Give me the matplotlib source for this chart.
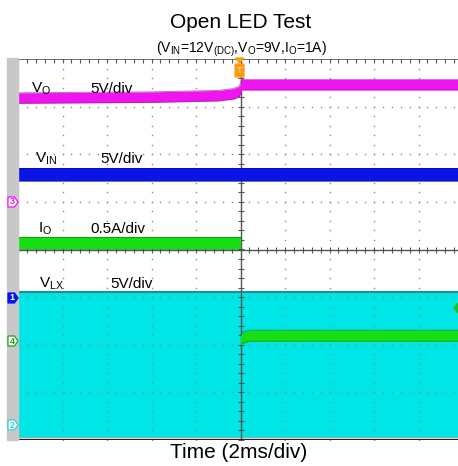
import matplotlib
matplotlib.use('Agg')
import matplotlib.pyplot as plt
import numpy as np
from matplotlib.patches import Rectangle, Polygon, FancyBboxPatch

plt.rcParams['font.family'] = ['Liberation Sans', 'DejaVu Sans']
plt.rcParams['mathtext.fontset'] = 'custom'
plt.rcParams['mathtext.rm'] = 'Liberation Sans'
plt.rcParams['mathtext.it'] = 'Liberation Sans:italic'

W, H = 458, 466

# traces, time in ms (2ms/div), level in screen divisions
t_vo = [-10, -4, -1, -0.3, -0.05, 0.05, 10]
vo = [3.18, 3.20, 3.23, 3.27, 3.32, 3.46, 3.46]
t_vin = [-10, 10]
vin = [1.575, 1.575]
t_io = [-10, 0]
io = [0.13, 0.13]
t_ch4 = [0, 0.1, 0.4, 10]
ch4 = [-1.92, -1.85, -1.81, -1.81]
t_vlx = [-10, 10]
vlx_high = [-0.9, -0.9]
vlx_low = [-3.93, -3.93]

labels = [
    (r'$\mathrm{V_{O}}$', 31, 93, '5V/div', 90),
    (r'$\mathrm{V_{IN}}$', 35, 163, '5V/div', 100),
    (r'$\mathrm{I_{O}}$', 38, 233, '0.5A/div', 90),
    (r'$\mathrm{V_{LX}}$', 39, 288, '5V/div', 110),
]

magenta = '#f014f0'
blue = '#0a14e6'
green = '#14e014'
cyan = '#00e6e6'


def fx(x):
    return x / W


def fy(y):
    return 1 - y / H


fig = plt.figure(figsize=(W / 100, H / 100), dpi=100)
fig.patch.set_facecolor('white')

# grey strip on the left of the screen
fig.patches.append(Rectangle((fx(7), fy(440)), 11 / W, 382 / H,
                             transform=fig.transFigure, color='#c8c8c8', zorder=0))

ax = fig.add_axes([fx(18), fy(440), 445 / W, 381 / H])
ax.set_xlim(-10, 10)
ax.set_ylim(-4, 4)
ax.axis('off')

# VLX switching band
ax.fill_between(t_vlx, vlx_low, vlx_high, color=cyan, lw=0, zorder=1)
ax.plot(t_vlx, vlx_high, color='#2a8c8c', lw=1.6, zorder=1.2)
ax.plot(t_vlx, vlx_low, color='#7fb8b8', lw=1.0, zorder=1.2)

# dotted grid
minor_x = np.arange(-10, 10.01, 0.4)
minor_y = np.arange(-4, 4.01, 0.2)
for gx in np.arange(-8, 8.01, 2):
    if abs(gx) < 1e-9:
        continue
    ax.plot(np.full_like(minor_y, gx), minor_y, 's', ms=1.0, mew=0,
            color='#8a8a8a', zorder=1.5)
for gy in np.arange(-3, 3.01, 1):
    if abs(gy) < 1e-9:
        continue
    ax.plot(minor_x, np.full_like(minor_x, gy), 's', ms=1.0, mew=0,
            color='#8a8a8a', zorder=1.5)

# centre axes with ticks
ax.axhline(0, color='#555555', lw=1.0, zorder=2)
ax.axvline(0, color='#555555', lw=1.0, zorder=2)
ax.plot(minor_x, np.zeros_like(minor_x), '|', ms=4.5, mew=0.8, color='#555555', zorder=2)
ax.plot(np.zeros_like(minor_y), minor_y, '_', ms=4.5, mew=0.8, color='#555555', zorder=2)

# border
ax.axhline(4, color='#555555', lw=1.2, zorder=2)
ax.plot(minor_x, np.full_like(minor_x, 3.96), '|', ms=2.5, mew=0.8, color='#555555', zorder=2)
ax.axhline(-4, color='#222222', lw=1.6, zorder=2)
ax.axvline(-10, color='#888888', lw=0.8, zorder=2)


def band(t, lvl, half, color, edge):
    lvl = np.asarray(lvl)
    ax.fill_between(t, lvl - half, lvl + half, color=color, lw=0, zorder=3)
    ax.plot(t, lvl + half, color=edge, lw=0.7, alpha=0.6, zorder=3.1)
    ax.plot(t, lvl - half, color=edge, lw=0.7, alpha=0.6, zorder=3.1)


band(t_vo, vo, 0.11, magenta, '#902090')
band(t_vin, vin, 0.14, blue, '#0a0a70')
band(t_io, io, 0.125, green, '#107010')
band(t_ch4, ch4, 0.115, green, '#107010')

# channel labels
for name, nx, base, scale, sx in labels:
    fig.text(fx(nx), fy(base), name, fontsize=11, va='baseline', ha='left')
    fig.text(fx(sx), fy(base), scale, fontsize=11, va='baseline', ha='left')


# channel markers on the left strip
def marker(yc, txt, edge, face, tcolor):
    pts = [(8, yc - 5), (14.5, yc - 5), (18, yc), (14.5, yc + 5), (8, yc + 5)]
    fig.patches.append(Polygon([(fx(a), fy(b)) for a, b in pts], closed=True,
                               transform=fig.transFigure, facecolor=face,
                               edgecolor=edge, lw=0.9, zorder=5))
    fig.text(fx(12), fy(yc), txt, fontsize=6.5, color=tcolor, ha='center',
             va='center', zorder=6, fontweight='bold')


marker(202, '3', magenta, 'white', magenta)
marker(298, '1', blue, blue, 'white')
marker(341, '4', '#20a020', 'white', '#20a020')
marker(425, '2', '#30d0d0', 'white', '#30d0d0')

# trigger marker
orange = '#ff9a10'
fig.patches.append(Polygon([(fx(235.5), fy(58)), (fx(243.5), fy(58)), (fx(239.5), fy(63))],
                           closed=True, transform=fig.transFigure, color=orange, zorder=5))
fig.patches.append(FancyBboxPatch((fx(236), fy(76)), 7 / W, 11 / H,
                                  boxstyle='round,pad=0.002', transform=fig.transFigure,
                                  color=orange, zorder=5))
fig.text(fx(239.5), fy(70.5), 'T', fontsize=6.5, color='#ffe0a0', ha='center',
         va='center', zorder=6)

# green marker at the right edge
fig.patches.append(Polygon([(fx(454), fy(308)), (fx(458), fy(303)), (fx(458), fy(313))],
                           closed=True, transform=fig.transFigure, color='#20c020', zorder=5))

# titles
fig.text(fx(240.5), fy(27.5), 'Open LED Test', fontsize=15, ha='center', va='baseline')
fig.text(fx(241), fy(53), r'($\mathrm{V_{IN}}$=12$\mathrm{V_{(DC)}}$,$\mathrm{V_{O}}$=9V,$\mathrm{I_{O}}$=1A)',
         fontsize=10, ha='center', va='baseline')
fig.text(fx(239), fy(458), 'Time (2ms/div)', fontsize=15, ha='center', va='baseline')

fig.savefig('out.png', dpi=100)
